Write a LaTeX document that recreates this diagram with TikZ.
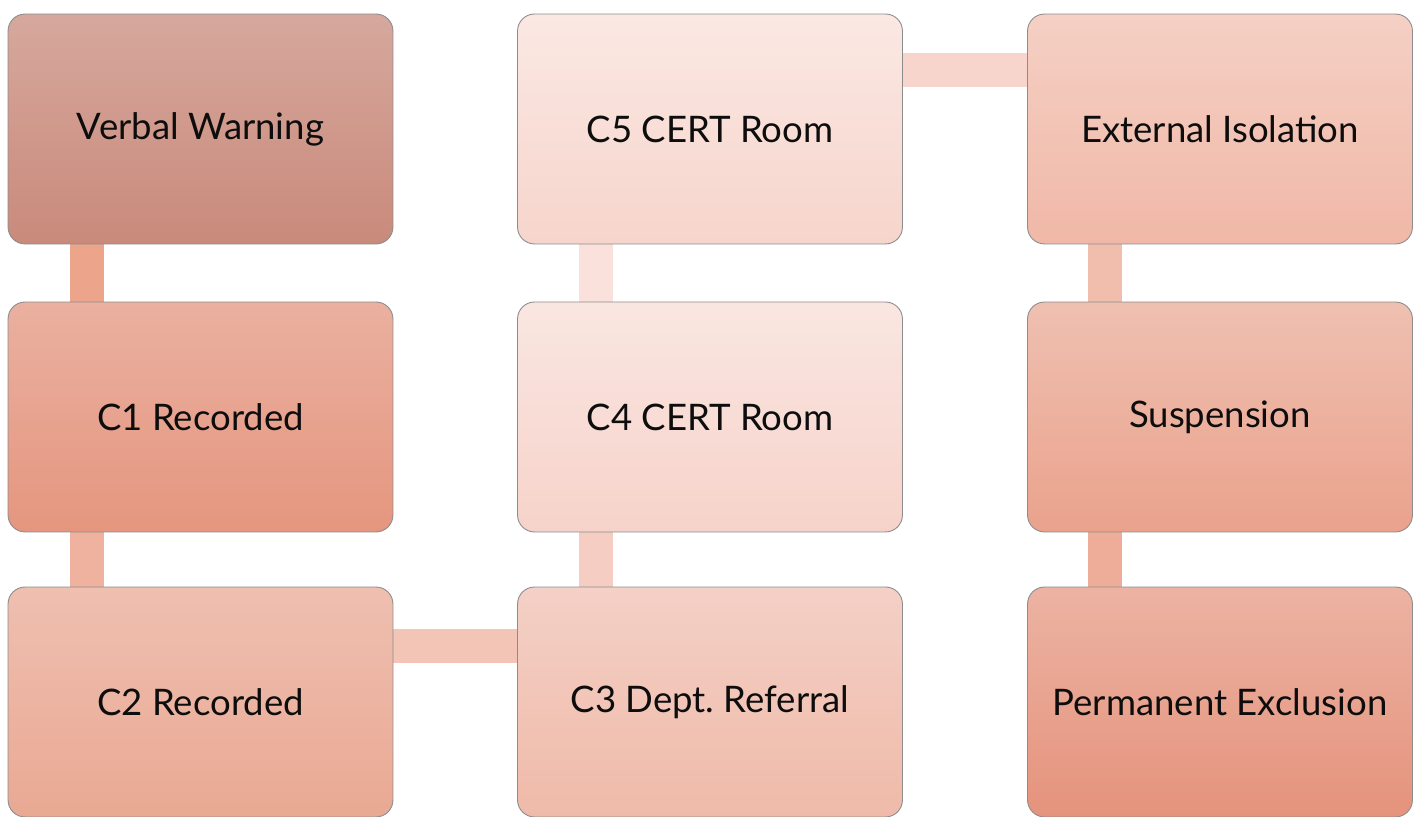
\documentclass[tikz,border=0pt]{standalone}
\usepackage{fontspec}
\setmainfont{Lato}
\usetikzlibrary{backgrounds}

\definecolor{vwT}{HTML}{D6A89D}\definecolor{vwB}{HTML}{C98A7B}
\definecolor{caT}{HTML}{EAB0A0}\definecolor{caB}{HTML}{E5967F}
\definecolor{cbT}{HTML}{EFBFB0}\definecolor{cbB}{HTML}{E9A993}
\definecolor{ccT}{HTML}{F4D0C6}\definecolor{ccB}{HTML}{EFBAA9}
\definecolor{cdT}{HTML}{FAE6E1}\definecolor{cdB}{HTML}{F6D3CA}
\definecolor{ceT}{HTML}{FBE8E3}\definecolor{ceB}{HTML}{F6D5CC}
\definecolor{exT}{HTML}{F5D0C5}\definecolor{exB}{HTML}{F0B8A7}
\definecolor{suT}{HTML}{EFC0B1}\definecolor{suB}{HTML}{EAA28C}
\definecolor{peT}{HTML}{ECB3A3}\definecolor{peB}{HTML}{E5937C}
\definecolor{barA}{HTML}{ECA48B}\definecolor{barB}{HTML}{EFB29E}
\definecolor{barC}{HTML}{F3C5B7}\definecolor{barD}{HTML}{F5CDC2}
\definecolor{barE}{HTML}{FAE1DB}\definecolor{barF}{HTML}{F7D5CC}
\definecolor{barG}{HTML}{F1BEAE}\definecolor{barH}{HTML}{EEAD98}

\tikzset{
	stagebox/.style 2 args={draw=black!45, line width=0.5pt, rounded corners=0.34cm,
		minimum width=7.7cm, minimum height=4.6cm, top color=#1, bottom color=#2,
		font=\fontsize{20.8}{25}\selectfont, text=black!95},
	linkbar/.style={line width=0.68cm, draw=#1}
}

\begin{document}
\begin{tikzpicture}[x=0.02cm, y=0.02cm]
	\useasboundingbox (0,0) rectangle (1418,817);
	\node[stagebox={vwT}{vwB}] (VW) at (200.5,688) {Verbal Warning};
	\node[stagebox={caT}{caB}] (C1) at (200.5,400) {C1 Recorded};
	\node[stagebox={cbT}{cbB}] (C2) at (200.5,115) {C2 Recorded};
	\node[stagebox={ccT}{ccB}] (C3) at (710,115) {C3 Dept.\ Referral};
	\node[stagebox={cdT}{cdB}] (C4) at (710,400) {C4 CERT Room};
	\node[stagebox={ceT}{ceB}] (C5) at (710,688) {C5 CERT Room};
	\node[stagebox={exT}{exB}] (EX) at (1220,688) {External Isolation};
	\node[stagebox={suT}{suB}] (SU) at (1220,400) {Suspension};
	\node[stagebox={peT}{peB}] (PE) at (1220,115) {Permanent Exclusion};
	\begin{scope}[on background layer]
		\draw[linkbar=barA] ([xshift=-2.28cm]VW.south) -- ([xshift=-2.28cm]C1.north);
		\draw[linkbar=barB] ([xshift=-2.28cm]C1.south) -- ([xshift=-2.28cm]C2.north);
		\draw[linkbar=barC] ([yshift=1.12cm]C2.east) -- ([yshift=1.12cm]C3.west);
		\draw[linkbar=barD] ([xshift=-2.28cm]C3.north) -- ([xshift=-2.28cm]C4.south);
		\draw[linkbar=barE] ([xshift=-2.28cm]C4.north) -- ([xshift=-2.28cm]C5.south);
		\draw[linkbar=barF] ([yshift=1.18cm]C5.east) -- ([yshift=1.18cm]EX.west);
		\draw[linkbar=barG] ([xshift=-2.3cm]EX.south) -- ([xshift=-2.3cm]SU.north);
		\draw[linkbar=barH] ([xshift=-2.3cm]SU.south) -- ([xshift=-2.3cm]PE.north);
	\end{scope}
\end{tikzpicture}
\end{document}
